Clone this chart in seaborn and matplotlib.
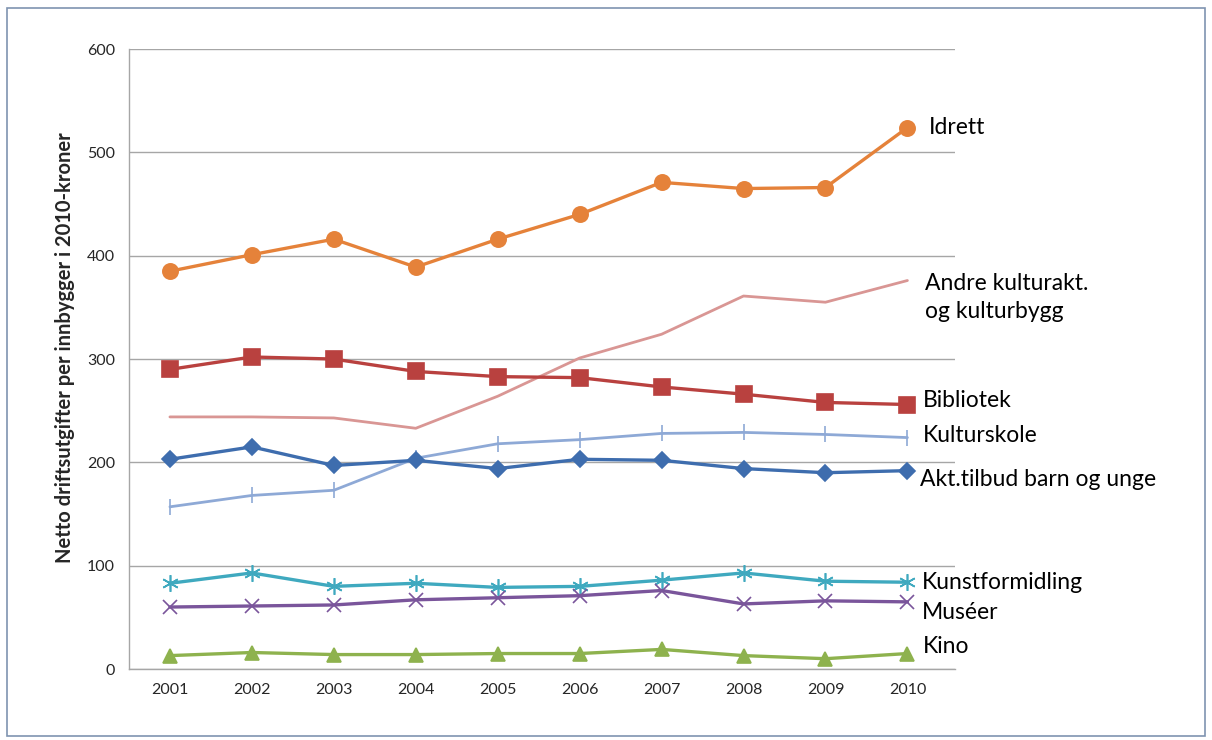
import matplotlib
matplotlib.use("Agg")
import matplotlib.pyplot as plt
import seaborn as sns
import pandas as pd
from matplotlib.patches import Rectangle

years = [2001, 2002, 2003, 2004, 2005, 2006, 2007, 2008, 2009, 2010]
idrett = [385, 401, 416, 389, 416, 440, 471, 465, 466, 524]
andre = [244, 244, 243, 233, 264, 301, 324, 361, 355, 376]
bibliotek = [290, 302, 300, 288, 283, 282, 273, 266, 258, 256]
kulturskole = [157, 168, 173, 204, 218, 222, 228, 229, 227, 224]
akt_tilbud = [203, 215, 197, 202, 194, 203, 202, 194, 190, 192]
kunstformidling = [83, 93, 80, 83, 79, 80, 86, 93, 85, 84]
museer = [60, 61, 62, 67, 69, 71, 76, 63, 66, 65]
kino = [13, 16, 14, 14, 15, 15, 19, 13, 10, 15]

series_names = ["Idrett", "Andre kulturakt.\nog kulturbygg", "Bibliotek", "Kulturskole",
                "Akt.tilbud barn og unge", "Kunstformidling", "Muséer", "Kino"]
series_values = [idrett, andre, bibliotek, kulturskole, akt_tilbud, kunstformidling, museer, kino]
y_label = "Netto driftsutgifter per innbygger i 2010-kroner"
y_ticks = [0, 100, 200, 300, 400, 500, 600]

# style: color, marker, markersize, linewidth, label offset (pixels)
styles = [
    ("#E5823A", "o", 11, 2.4, (21, 0)),
    ("#D99694", None, 0, 2.0, (18, -17)),
    ("#B9413F", "s", 11, 2.4, (15, 4)),
    ("#8EA9D6", "|", 11, 2.0, (15, 2)),
    ("#3E6DAE", "D", 8, 2.4, (13, -9)),
    ("#3FA9BF", (6, 2, 0), 12, 2.4, (14, 0)),
    ("#7A559B", "x", 10, 2.4, (14, -11)),
    ("#8EB24E", "^", 10, 2.4, (15, 7)),
]

sns.set_theme(style="white")
plt.rcParams["font.family"] = ["Lato", "DejaVu Sans"]

fig = plt.figure(figsize=(12.12, 7.4), dpi=100)
ax = fig.add_axes([0.1064, 0.0959, 0.6815, 0.8378])

for name, vals, (col, mk, ms, lw, off) in zip(series_names, series_values, styles):
    df = pd.DataFrame({"year": years, "value": vals})
    kw = dict(marker=mk, markersize=ms, markeredgecolor=col, markerfacecolor=col,
              markeredgewidth=1.2) if mk is not None else {}
    sns.lineplot(data=df, x="year", y="value", color=col, linewidth=lw, ax=ax, **kw)
    ax.annotate(name, xy=(years[-1], vals[-1]), xytext=(off[0], off[1]),
                textcoords="offset pixels", ha="left", va="center",
                fontsize=16.5, color="black", annotation_clip=False, linespacing=1.45)

ax.set_xlim(2000.5, 2010.58)
ax.set_ylim(0, 600)
ax.set_xticks(years)
ax.set_xticklabels([str(y) for y in years], fontsize=11.5)
ax.set_yticks(y_ticks)
ax.set_yticklabels([str(t) for t in y_ticks], fontsize=11.5)
ax.tick_params(axis="both", length=0, pad=10, colors="#262626")
ax.grid(axis="y", color="#A6A6A6", linewidth=1.0)
ax.grid(axis="x", visible=False)
ax.set_axisbelow(True)
for side in ["top", "right"]:
    ax.spines[side].set_visible(False)
for side in ["left", "bottom"]:
    ax.spines[side].set_color("#A6A6A6")
    ax.spines[side].set_linewidth(1.0)
ax.set_xlabel("")
ax.set_ylabel(y_label, fontsize=14.5, fontweight="bold")
ax.yaxis.set_label_coords(-0.065, 0.518)

fig.patches.append(Rectangle((0.006, 0.006), 0.988, 0.983, transform=fig.transFigure,
                             fill=False, edgecolor="#7F94B0", linewidth=1.2))

fig.savefig("out.png", dpi=100)
